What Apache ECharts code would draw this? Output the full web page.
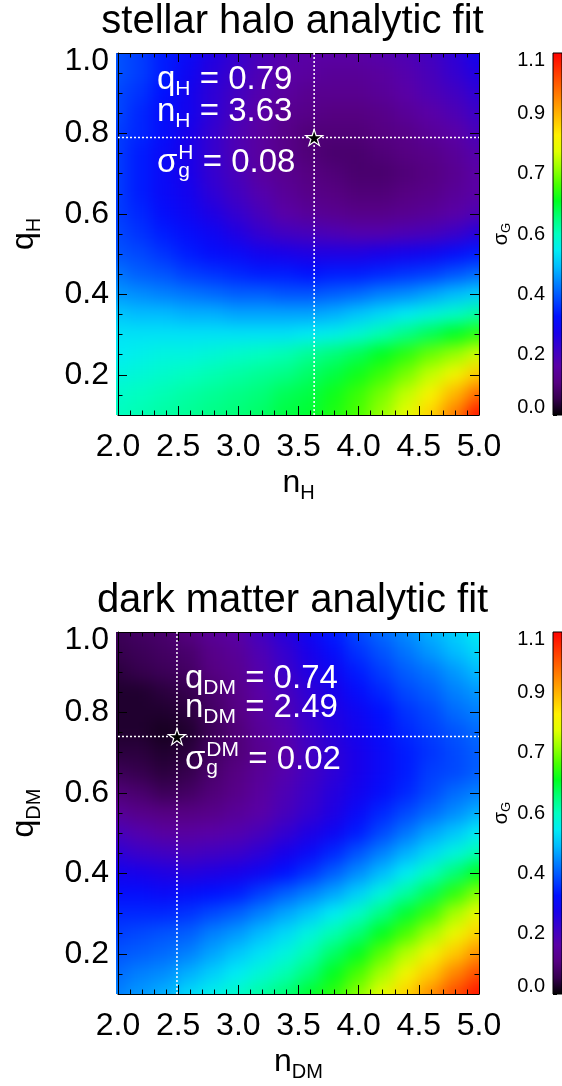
<!DOCTYPE html>
<html>
<head>
<meta charset="utf-8">
<script src="https://cdn.jsdelivr.net/npm/echarts@6/dist/echarts.min.js"></script>
<style>
  html, body { margin: 0; padding: 0; background: #fff; }
  #wrap { position: relative; width: 562px; height: 1086px; overflow: hidden; }
  #frame { position: absolute; left: 0; top: 0; width: 562px; height: 1086px; }
  .clip { position: absolute; overflow: hidden; }
  .field { position: absolute; filter: blur(8px); }
</style>
</head>
<body>
<div id="wrap">
  <div class="clip" id="clip0"><div class="field" id="field0"></div></div>
  <div class="clip" id="clip1"><div class="field" id="field1"></div></div>
  <div id="frame"></div>
</div>
<script>
// ---- grid of the fit (shape index n, flattening q) ----
const nGrid = [2.0, 2.2, 2.4, 2.6, 2.8, 3.0, 3.2, 3.4, 3.6, 3.8, 4.0, 4.2, 4.4, 4.6, 4.8, 5.0];
const qGrid = [1.00, 0.95, 0.90, 0.85, 0.80, 0.75, 0.70, 0.65, 0.60, 0.55, 0.50,
               0.45, 0.40, 0.35, 0.30, 0.25, 0.20, 0.15, 0.10];

// sigma_G of the stellar halo fit, one row per qGrid entry
const haloSigma = [
  [0.36,0.34,0.31,0.28,0.24,0.21,0.18,0.16,0.15,0.15,0.15,0.16,0.17,0.19,0.22,0.26],
  [0.36,0.34,0.31,0.27,0.23,0.20,0.17,0.15,0.14,0.13,0.13,0.14,0.16,0.18,0.21,0.24],
  [0.35,0.33,0.30,0.26,0.22,0.19,0.16,0.14,0.12,0.12,0.12,0.13,0.15,0.17,0.19,0.22],
  [0.35,0.32,0.29,0.26,0.22,0.18,0.15,0.12,0.11,0.10,0.10,0.11,0.13,0.15,0.17,0.20],
  [0.34,0.32,0.29,0.25,0.21,0.17,0.14,0.11,0.09,0.09,0.09,0.10,0.11,0.13,0.15,0.18],
  [0.34,0.31,0.28,0.25,0.21,0.17,0.14,0.11,0.09,0.08,0.08,0.09,0.10,0.11,0.13,0.16],
  [0.34,0.31,0.28,0.25,0.21,0.18,0.14,0.12,0.10,0.09,0.08,0.08,0.09,0.10,0.12,0.15],
  [0.34,0.31,0.28,0.26,0.22,0.19,0.16,0.13,0.11,0.10,0.09,0.09,0.10,0.11,0.13,0.15],
  [0.34,0.32,0.29,0.27,0.24,0.21,0.18,0.15,0.13,0.12,0.11,0.11,0.12,0.13,0.15,0.17],
  [0.35,0.33,0.31,0.29,0.27,0.24,0.21,0.19,0.18,0.17,0.16,0.16,0.17,0.18,0.20,0.23],
  [0.36,0.35,0.33,0.31,0.29,0.28,0.26,0.25,0.24,0.24,0.24,0.25,0.26,0.27,0.29,0.31],
  [0.39,0.37,0.36,0.34,0.33,0.32,0.31,0.31,0.30,0.31,0.31,0.32,0.33,0.34,0.36,0.38],
  [0.42,0.41,0.40,0.39,0.38,0.37,0.37,0.36,0.36,0.37,0.38,0.40,0.41,0.43,0.45,0.47],
  [0.46,0.45,0.45,0.44,0.44,0.43,0.43,0.43,0.43,0.44,0.46,0.48,0.50,0.52,0.54,0.57],
  [0.49,0.49,0.49,0.49,0.49,0.49,0.49,0.49,0.50,0.51,0.53,0.56,0.59,0.62,0.65,0.68],
  [0.50,0.51,0.52,0.52,0.53,0.54,0.55,0.56,0.58,0.60,0.62,0.65,0.68,0.72,0.75,0.79],
  [0.52,0.53,0.54,0.55,0.56,0.57,0.58,0.59,0.61,0.63,0.66,0.69,0.73,0.78,0.83,0.89],
  [0.54,0.55,0.56,0.57,0.58,0.59,0.60,0.62,0.63,0.66,0.69,0.73,0.78,0.84,0.91,0.99],
  [0.55,0.56,0.57,0.58,0.59,0.60,0.61,0.63,0.64,0.67,0.70,0.75,0.81,0.88,0.97,1.08]
];

// sigma_G of the dark matter fit, one row per qGrid entry
const darkSigma = [
  [0.06,0.07,0.08,0.10,0.13,0.15,0.19,0.23,0.27,0.31,0.35,0.38,0.41,0.44,0.47,0.50],
  [0.05,0.06,0.07,0.08,0.11,0.13,0.17,0.21,0.25,0.29,0.33,0.36,0.39,0.42,0.45,0.48],
  [0.04,0.05,0.06,0.07,0.10,0.12,0.16,0.20,0.24,0.27,0.31,0.34,0.37,0.39,0.42,0.45],
  [0.03,0.03,0.04,0.05,0.08,0.11,0.15,0.18,0.22,0.25,0.29,0.32,0.35,0.37,0.40,0.42],
  [0.03,0.03,0.03,0.04,0.07,0.10,0.14,0.17,0.21,0.24,0.27,0.30,0.33,0.35,0.38,0.40],
  [0.03,0.03,0.02,0.03,0.06,0.09,0.13,0.16,0.20,0.23,0.26,0.29,0.32,0.34,0.36,0.38],
  [0.04,0.04,0.03,0.04,0.07,0.09,0.12,0.15,0.19,0.22,0.25,0.28,0.31,0.33,0.35,0.37],
  [0.06,0.05,0.04,0.05,0.08,0.10,0.13,0.16,0.19,0.22,0.25,0.28,0.31,0.34,0.35,0.37],
  [0.09,0.08,0.06,0.07,0.09,0.11,0.14,0.17,0.20,0.23,0.26,0.29,0.32,0.35,0.38,0.40],
  [0.13,0.11,0.10,0.10,0.11,0.13,0.15,0.18,0.21,0.24,0.28,0.32,0.35,0.38,0.41,0.44],
  [0.18,0.16,0.14,0.14,0.15,0.16,0.18,0.21,0.24,0.27,0.31,0.35,0.39,0.43,0.46,0.50],
  [0.22,0.20,0.19,0.18,0.19,0.20,0.22,0.25,0.28,0.32,0.36,0.40,0.44,0.48,0.52,0.56],
  [0.26,0.25,0.24,0.23,0.24,0.25,0.27,0.30,0.33,0.37,0.41,0.45,0.50,0.55,0.60,0.65],
  [0.29,0.29,0.28,0.29,0.30,0.31,0.34,0.37,0.40,0.43,0.47,0.52,0.57,0.62,0.68,0.74],
  [0.32,0.32,0.32,0.33,0.35,0.37,0.40,0.43,0.46,0.50,0.54,0.59,0.64,0.69,0.76,0.82],
  [0.34,0.35,0.36,0.37,0.40,0.42,0.45,0.48,0.52,0.56,0.60,0.65,0.70,0.76,0.82,0.88],
  [0.36,0.37,0.38,0.40,0.43,0.46,0.49,0.52,0.56,0.61,0.65,0.71,0.77,0.83,0.89,0.95],
  [0.38,0.40,0.41,0.44,0.47,0.50,0.53,0.56,0.60,0.65,0.70,0.76,0.83,0.89,0.96,1.02],
  [0.40,0.42,0.44,0.48,0.51,0.54,0.57,0.60,0.64,0.68,0.74,0.81,0.88,0.95,1.02,1.08]
];

// best-fit parameters marked by the star
const haloBest = [3.63, 0.79];
const haloBestSigma = 0.08;
const darkBest = [2.49, 0.74];
const darkBestSigma = 0.02;

// text and ticks
const panelTitles = ['stellar halo analytic fit', 'dark matter analytic fit'];
const panelTags = ['H', 'DM'];
const nTicks = [2.0, 2.5, 3.0, 3.5, 4.0, 4.5, 5.0];
const qTicks = [0.2, 0.4, 0.6, 0.8, 1.0];
const cbTickLabels = ['0.0', '0.2', '0.4', '0.6', '0.7', '0.9', '1.1'];

// rainbow colour table, evenly spaced from SIGMA_MIN to SIGMA_MAX
const colorTable = [
  '#000000', '#36004e', '#560082', '#5a00a6', '#3c00c8', '#1800ea', '#0010ff', '#0048ff',
  '#0080ff', '#00bcff', '#00ecf4', '#00ffc0', '#00ff78', '#00ff20', '#48ff00', '#98ff00',
  '#e0ff00', '#fff000', '#ffc000', '#ff9000', '#ff6000', '#ff3000', '#ff0000'
];

// ---- layout ----
const N_MIN = 2.0, N_MAX = 5.0, N_STEP = 0.5;
const Q_MIN = 0.1, Q_MAX = 1.0;
const SIGMA_MIN = 0.0, SIGMA_MAX = 1.1;
const PLOT_LEFT = 116, PLOT_W = 363, PLOT_H = 362;
const PANEL_TOPS = [53, 632];
const CB_LEFT = 553, CB_W = 12;
const PAD = 40;
const FONT = "'Liberation Sans', Arial, Helvetica, sans-serif";
const ANNOT = [
  { x: 157, y: [80, 112, 163] },
  { x: 185, y: [679, 708, 760] }
];

const CELL_DN = nGrid[1] - nGrid[0];
const CELL_DQ = qGrid[0] - qGrid[1];

function toCells(rows) {
  const out = [];
  rows.forEach((row, i) => row.forEach((v, j) => out.push([nGrid[j], qGrid[i], v])));
  return out;
}

function renderCell(params, api) {
  const n = api.value(0), q = api.value(1);
  let x0 = n - CELL_DN / 2, x1 = n + CELL_DN / 2;
  let y0 = q - CELL_DQ / 2, y1 = q + CELL_DQ / 2;
  // outer cells reach past the frame so the smoothing keeps full colour at the edges
  if (n <= nGrid[0]) x0 -= CELL_DN * 3;
  if (n >= nGrid[nGrid.length - 1]) x1 += CELL_DN * 3;
  if (q <= qGrid[qGrid.length - 1]) y0 -= CELL_DQ * 3;
  if (q >= qGrid[0]) y1 += CELL_DQ * 3;
  const a = api.coord([x0, y1]);
  const b = api.coord([x1, y0]);
  return {
    type: 'rect',
    shape: { x: a[0] - 0.5, y: a[1] - 0.5, width: b[0] - a[0] + 1, height: b[1] - a[1] + 1 },
    style: { fill: api.visual('color') }
  };
}

// ---- smoothed colour field, one clipped layer per panel ----
[haloSigma, darkSigma].forEach((rows, i) => {
  const clip = document.getElementById('clip' + i);
  Object.assign(clip.style, {
    left: PLOT_LEFT + 'px', top: PANEL_TOPS[i] + 'px', width: PLOT_W + 'px', height: PLOT_H + 'px'
  });
  const el = document.getElementById('field' + i);
  Object.assign(el.style, {
    left: -PAD + 'px', top: -PAD + 'px', width: (PLOT_W + 2 * PAD) + 'px', height: (PLOT_H + 2 * PAD) + 'px'
  });
  const chart = echarts.init(el, null, { renderer: 'canvas' });
  chart.setOption({
    animation: false,
    grid: { left: PAD, top: PAD, width: PLOT_W, height: PLOT_H },
    xAxis: { type: 'value', min: N_MIN, max: N_MAX, show: false },
    yAxis: { type: 'value', min: Q_MIN, max: Q_MAX, show: false },
    visualMap: {
      type: 'continuous', show: false, min: SIGMA_MIN, max: SIGMA_MAX,
      dimension: 2, seriesIndex: 0, inRange: { color: colorTable }
    },
    series: [{ type: 'custom', clip: false, renderItem: renderCell, data: toCells(rows) }]
  });
});

// ---- axes, marks and text layer ----
const mctx = document.createElement('canvas').getContext('2d');
function textWidth(str, size) {
  mctx.font = size + 'px ' + FONT;
  return mctx.measureText(str).width;
}

const nameRich = {
  a: { fontSize: 32, fontFamily: FONT, color: '#000', lineHeight: 40 },
  b: { fontSize: 20, fontFamily: FONT, color: '#000', lineHeight: 18, verticalAlign: 'bottom' }
};
const cbNameRich = {
  a: { fontSize: 20, fontFamily: FONT, color: '#000', lineHeight: 24 },
  b: { fontSize: 13, fontFamily: FONT, color: '#000', lineHeight: 12, verticalAlign: 'bottom' }
};
const tickLine = { color: '#000', width: 1 };

function nAxis(grid, pos, tag) {
  const bottom = pos === 'bottom';
  return {
    type: 'value', gridIndex: grid, position: pos, min: N_MIN, max: N_MAX, interval: N_STEP,
    axisLine: { show: true, onZero: false, lineStyle: tickLine },
    axisTick: { show: true, inside: true, length: 9, lineStyle: tickLine },
    minorTick: { show: true, splitNumber: 5, length: 4.5, lineStyle: tickLine },
    splitLine: { show: false },
    axisLabel: {
      show: bottom, fontSize: 32, fontFamily: FONT, color: '#000', margin: 16,
      formatter: v => nTicks.some(t => Math.abs(t - v) < 1e-6) ? v.toFixed(1) : ''
    },
    name: bottom ? `{a|n}{b|${tag}}` : '',
    nameLocation: 'middle', nameGap: 48,
    nameTextStyle: { rich: nameRich }
  };
}

function qAxis(grid, pos, tag) {
  const left = pos === 'left';
  return {
    type: 'value', gridIndex: grid, position: pos, min: Q_MIN, max: Q_MAX,
    minInterval: 0.2, maxInterval: 0.2,
    axisLine: { show: true, onZero: false, lineStyle: tickLine },
    axisTick: { show: true, inside: true, length: 9, lineStyle: tickLine },
    minorTick: { show: true, splitNumber: 4, length: 4.5, lineStyle: tickLine },
    splitLine: { show: false },
    axisLabel: {
      show: left, fontSize: 32, fontFamily: FONT, color: '#000', margin: 9,
      formatter: v => {
        if (!qTicks.some(t => Math.abs(t - v) < 1e-6)) return '';
        const s = v.toFixed(1);
        return Math.abs(v - Q_MAX) < 1e-6 ? `{top|${s}}` : s;
      },
      rich: { top: { fontSize: 32, fontFamily: FONT, color: '#000', padding: [16, 0, 0, 0] } }
    },
    name: left ? `{a|q}{b|${tag}}` : '',
    nameLocation: 'middle', nameRotate: 90, nameGap: 74,
    nameTextStyle: { rich: nameRich }
  };
}

const grids = [];
const xAxes = [];
const yAxes = [];
const series = [];
const graphics = [];
const bests = [haloBest, darkBest];
const bestSigmas = [haloBestSigma, darkBestSigma];

const starPath = 'path://M0,-100L22.45,-30.9L95.1,-30.9L36.33,11.8L58.78,80.9L0,38.2L-58.78,80.9L-36.33,11.8L-95.1,-30.9L-22.45,-30.9Z';
const dotted = { color: '#fff', width: 1.5, type: [2, 2] };

const cbStops = colorTable.map((c, i) => ({ offset: i / (colorTable.length - 1), color: c }));
const cbLast = cbTickLabels.length - 1;

PANEL_TOPS.forEach((top, p) => {
  const tag = panelTags[p];
  // plot frame
  const g = grids.length;
  grids.push({ left: PLOT_LEFT, top: top, width: PLOT_W, height: PLOT_H });
  const xb = xAxes.length; xAxes.push(nAxis(g, 'bottom', tag));
  xAxes.push(nAxis(g, 'top', tag));
  const yl = yAxes.length; yAxes.push(qAxis(g, 'left', tag));
  yAxes.push(qAxis(g, 'right', tag));

  const [bn, bq] = bests[p];
  series.push({
    type: 'line', xAxisIndex: xb, yAxisIndex: yl, symbol: 'none', silent: true, z: 3,
    lineStyle: dotted, data: [[bn, Q_MIN], [bn, Q_MAX]]
  });
  series.push({
    type: 'line', xAxisIndex: xb, yAxisIndex: yl, symbol: 'none', silent: true, z: 3,
    lineStyle: dotted, data: [[N_MIN, bq], [N_MAX, bq]]
  });
  series.push({
    type: 'scatter', xAxisIndex: xb, yAxisIndex: yl, z: 5,
    symbol: starPath, symbolKeepAspect: true, symbolSize: 17,
    itemStyle: { color: '#000', borderColor: '#fff', borderWidth: 1.2, opacity: 1 },
    data: [[bn, bq]]
  });

  // colour bar
  const cg = grids.length;
  grids.push({ left: CB_LEFT, top: top, width: CB_W, height: PLOT_H });
  const cx = xAxes.length;
  xAxes.push({ type: 'value', gridIndex: cg, min: 0, max: 1, show: false });
  const cy = yAxes.length;
  yAxes.push({ type: 'value', gridIndex: cg, min: SIGMA_MIN, max: SIGMA_MAX, show: false });
  yAxes.push({
    type: 'category', gridIndex: cg, position: 'left', data: cbTickLabels, boundaryGap: false,
    axisLine: { show: false },
    axisTick: { show: true, inside: true, length: 4, lineStyle: tickLine },
    axisLabel: {
      fontSize: 20, fontFamily: FONT, color: '#000', margin: 8,
      formatter: (v, i) => i === 0 ? `{lo|${v}}` : (i === cbLast ? `{hi|${v}}` : v),
      rich: {
        lo: { fontSize: 20, fontFamily: FONT, color: '#000', padding: [0, 0, 16, 0] },
        hi: { fontSize: 20, fontFamily: FONT, color: '#000', padding: [14, 0, 0, 0] }
      }
    },
    splitLine: { show: false },
    name: '{a|σ}{b|G}', nameLocation: 'middle', nameRotate: 90, nameGap: 36,
    nameTextStyle: { rich: cbNameRich }
  });
  series.push({
    type: 'custom', xAxisIndex: cx, yAxisIndex: cy, z: 1, silent: true,
    data: [[0]],
    renderItem: (params, api) => {
      const a = api.coord([0, SIGMA_MAX]);
      const b = api.coord([1, SIGMA_MIN]);
      return {
        type: 'rect',
        shape: { x: a[0], y: a[1], width: b[0] - a[0], height: b[1] - a[1] },
        style: {
          fill: new echarts.graphic.LinearGradient(0, 1, 0, 0, cbStops),
          stroke: '#000', lineWidth: 1
        }
      };
    }
  });

  // panel title
  graphics.push({
    type: 'text', x: PLOT_LEFT + PLOT_W / 2 - 5, y: top - 31, z: 10,
    style: { text: panelTitles[p], font: `40px ${FONT}`, fill: '#000', align: 'center', verticalAlign: 'middle' }
  });

  // best-fit annotation
  const A = ANNOT[p];
  const rich = {
    m: { fontSize: 33, fontFamily: FONT, fill: '#fff', lineHeight: 40 },
    s: { fontSize: 21, fontFamily: FONT, fill: '#fff', lineHeight: 18, verticalAlign: 'bottom' }
  };
  graphics.push({
    type: 'text', x: A.x, y: A.y[0], z: 10,
    style: { text: `{m|q}{s|${tag}}{m| = ${bq.toFixed(2)}}`, rich: rich, align: 'left', verticalAlign: 'middle' }
  });
  graphics.push({
    type: 'text', x: A.x, y: A.y[1], z: 10,
    style: { text: `{m|n}{s|${tag}}{m| = ${bn.toFixed(2)}}`, rich: rich, align: 'left', verticalAlign: 'middle' }
  });
  const sw = textWidth('σ', 33) + 1;
  const scriptW = Math.max(textWidth(tag, 21), textWidth('g', 21));
  const mainFont = `33px ${FONT}`, smallFont = `21px ${FONT}`;
  graphics.push({
    type: 'text', x: A.x, y: A.y[2], z: 10,
    style: { text: 'σ', font: mainFont, fill: '#fff', align: 'left', verticalAlign: 'middle' }
  });
  graphics.push({
    type: 'text', x: A.x + sw, y: A.y[2] - 10, z: 10,
    style: { text: tag, font: smallFont, fill: '#fff', align: 'left', verticalAlign: 'middle' }
  });
  graphics.push({
    type: 'text', x: A.x + sw, y: A.y[2] + 8, z: 10,
    style: { text: 'g', font: smallFont, fill: '#fff', align: 'left', verticalAlign: 'middle' }
  });
  graphics.push({
    type: 'text', x: A.x + sw + scriptW + textWidth(' ', 33), y: A.y[2], z: 10,
    style: { text: '= ' + bestSigmas[p].toFixed(2), font: mainFont, fill: '#fff', align: 'left', verticalAlign: 'middle' }
  });
});

const frame = echarts.init(document.getElementById('frame'), null, { renderer: 'canvas' });
frame.setOption({
  animation: false,
  backgroundColor: 'transparent',
  grid: grids,
  xAxis: xAxes,
  yAxis: yAxes,
  series: series,
  graphic: graphics
});
</script>
</body>
</html>
